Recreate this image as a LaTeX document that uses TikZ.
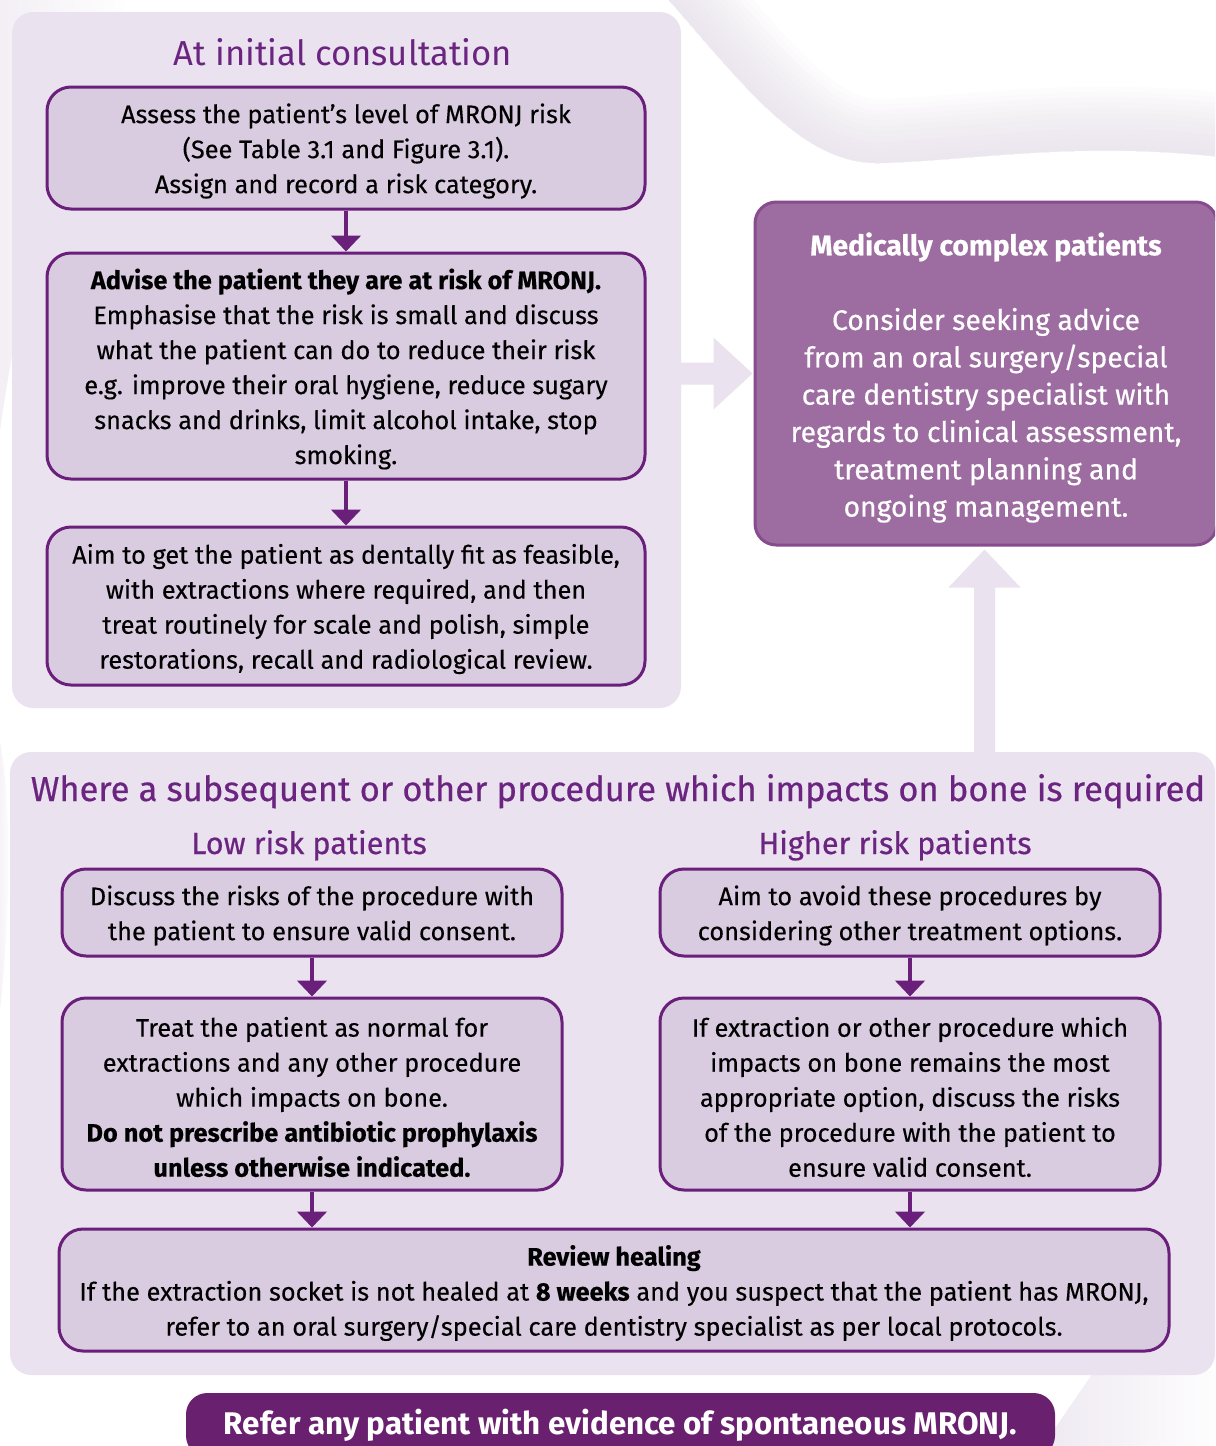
\documentclass[tikz,border=0pt]{standalone}
\usepackage{fontspec}
\setmainfont{Fira Sans}
\newfontfamily\medfont[FakeBold=0.5]{Fira Sans}
\newfontfamily\bodyfam[FakeBold=0.25]{Fira Sans}
\usetikzlibrary{arrows.meta,calc}
\definecolor{panel}{HTML}{EAE2EF}
\definecolor{boxfill}{HTML}{D9CBE0}
\definecolor{boxline}{HTML}{6A1F7A}
\definecolor{headc}{HTML}{6B2580}
\definecolor{mcfill}{HTML}{9D6DA1}
\definecolor{mcline}{HTML}{874C8E}
\definecolor{barc}{HTML}{68206F}
\definecolor{shadec}{HTML}{E3DAE8}
\begin{document}
\begin{tikzpicture}[x=0.75pt,y=-0.75pt,
  box/.style 2 args={draw=boxline, line width=2.25pt, fill=boxfill, rounded corners=18pt,
     minimum width=#1*0.75pt, minimum height=#2*0.75pt, inner sep=0pt},
  btext/.style={inner sep=0pt, align=center, text=black, font=\bodyfam\fontsize{19}{26.25}\selectfont},
  panelbox/.style={fill=panel, rounded corners=16pt, inner sep=0pt},
  darr/.style={draw=boxline, line width=3pt, -{Triangle[width=22pt,length=12pt]}},
  larr/.style={fill=panel},
  headA/.style={font=\fontsize{26}{30}\selectfont, text=headc, anchor=base, inner sep=0pt},
  headB/.style={font=\medfont\fontsize{25.9}{30}\selectfont, text=headc, anchor=base, inner sep=0pt},
  headC/.style={font=\medfont\fontsize{23}{27}\selectfont, text=headc, anchor=base, inner sep=0pt}
]
\useasboundingbox (0,0) rectangle (1215,1446);
\clip (0,0) rectangle (1215,1446);
\fill[white] (0,0) rectangle (1215,1446);

% ---- faint background swooshes ----
\begin{scope}
  \clip (660,-10) .. controls (740,80) and (800,165) .. (880,163)
        .. controls (980,160) and (1080,140) .. (1230,158) -- (1230,-10) -- cycle;
  \foreach \w in {8,16,...,96}
    \draw[shadec, line width=\w pt, opacity=0.07]
      (660,-10) .. controls (740,80) and (800,165) .. (880,163)
      .. controls (980,160) and (1080,140) .. (1230,158);
\end{scope}
\shade[left color=shadec!55, right color=white, opacity=0.8]
  (-5,-5) -- (130,-5) .. controls (80,100) and (30,220) .. (0,430) -- (-5,430) -- cycle;
\shade[left color=shadec!60, right color=white, opacity=0.7]
  (-5,720) .. controls (12,780) and (12,900) .. (0,1010) -- (-5,1010) -- cycle;
\shade[left color=shadec!60, right color=white]
  (1040,1450) -- (1095,1370) -- (1230,1370) -- (1230,1450) -- cycle;

% ---- panels ----
\node[panelbox, minimum width=669*0.75pt, minimum height=696*0.75pt] (toppanel) at (346.5,360) {};
\node[panelbox, minimum width=1205*0.75pt, minimum height=623*0.75pt] (botpanel) at (612.5,1063.5) {};

% ---- headings ----
\node[headA] (h1) at (343,65) {At initial consultation};
\node[headB] (h2) at (618,801) {Where a subsequent or other procedure which impacts on bone is required};
\node[headC] (h3) at (309,854) {Low risk patients};
\node[headC] (h4) at (895,854) {Higher risk patients};

% ---- top boxes ----
\node[box={598}{122}] (b1) at (346,148) {};
\node[btext] (b1t) at ($(b1.center)+(0,3)$) {Assess the patient’s level of MRONJ risk\\(See Table 3.1 and Figure 3.1).\\Assign and record a risk category.};
\node[box={598}{226}] (b2) at (346,366) {};
\node[btext] (b2t) at ($(b2.center)+(0,3)$) {\textbf{Advise the patient they are at risk of MRONJ.}\\Emphasise that the risk is small and discuss\\what the patient can do to reduce their risk\\e.g. improve their oral hygiene, reduce sugary\\snacks and drinks, limit alcohol intake, stop\\smoking.};
\node[box={598}{158}] (b3) at (346,606) {};
\node[btext] (b3t) at ($(b3.center)+(0,3)$) {Aim to get the patient as dentally fit as feasible,\\with extractions where required, and then\\treat routinely for scale and polish, simple\\restorations, recall and radiological review.};

% ---- medically complex ----
\node[draw=mcline, line width=2.25pt, fill=mcfill, rounded corners=16pt, minimum width=462*0.75pt,
      minimum height=343*0.75pt, inner sep=0pt] (mc) at (986,373.5) {};
\node[inner sep=0pt, align=center, text=white, font=\medfont\fontsize{21.2}{28}\selectfont] (mct)
  at ($(mc.center)+(0,4)$)
  {\textbf{Medically complex patients}\\ \\Consider seeking advice\\from an oral surgery/special\\care dentistry specialist with\\regards to clinical assessment,\\treatment planning and\\ongoing management.};

% ---- light connector arrows ----
\coordinate (ra) at ($(mc.west)+(-1,0)$);
\fill[larr] ($(toppanel.east |- ra)+(-2,-11)$) -- ($(ra)+(-39,-11)$) -- ($(ra)+(-39,-36)$) -- (ra)
   -- ($(ra)+(-39,36)$) -- ($(ra)+(-39,11)$) -- ($(toppanel.east |- ra)+(-2,11)$) -- cycle;
\coordinate (ua) at ($(mc.south)+(-1.5,3)$);
\fill[larr] ($(botpanel.north -| ua)+(-10.5,2)$) -- ($(ua)+(-10.5,38)$) -- ($(ua)+(-36,38)$) -- (ua)
   -- ($(ua)+(36,38)$) -- ($(ua)+(10.5,38)$) -- ($(botpanel.north -| ua)+(10.5,2)$) -- cycle;

% ---- lower boxes ----
\node[box={500}{87}] (l1) at (312,912.5) {};
\node[btext] (l1t) at ($(l1.center)+(0,3)$) {Discuss the risks of the procedure with\\the patient to ensure valid consent.};
\node[box={500}{192}] (l2) at (312,1094) {};
\node[btext] (l2t) at ($(l2.center)+(0,3)$) {Treat the patient as normal for\\extractions and any other procedure\\which impacts on bone.\\\textbf{Do not prescribe antibiotic prophylaxis}\\\textbf{unless otherwise indicated.}};
\node[box={500}{87}] (r1) at (910,912.5) {};
\node[btext] (r1t) at ($(r1.center)+(0,3)$) {Aim to avoid these procedures by\\considering other treatment options.};
\node[box={500}{192}] (r2) at (910,1094) {};
\node[btext] (r2t) at ($(r2.center)+(0,3)$) {If extraction or other procedure which\\impacts on bone remains the most\\appropriate option, discuss the risks\\of the procedure with the patient to\\ensure valid consent.};
\node[box={1110}{122}] (rv) at (614,1290) {};
\node[btext] (rvt) at ($(rv.center)+(0,3)$) {\textbf{Review healing}\\If the extraction socket is not healed at \textbf{8 weeks} and you suspect that the patient has MRONJ,\\refer to an oral surgery/special care dentistry specialist as per local protocols.};

% ---- bottom bar ----
\node[fill=barc, rounded corners=16pt, minimum width=869*0.75pt, minimum height=64*0.75pt, inner sep=0pt,
      text=white, font=\bfseries\fontsize{23.5}{27}\selectfont] (bar) at (620.5,1425)
  {Refer any patient with evidence of spontaneous MRONJ.};

% ---- dark arrows ----
\draw[darr] (b1.south) -- (b2.north);
\draw[darr] (b2.south) -- (b3.north);
\draw[darr] (l1.south) -- (l2.north);
\draw[darr] (r1.south) -- (r2.north);
\draw[darr] (l2.south) -- (rv.north -| l2.south);
\draw[darr] (r2.south) -- (rv.north -| r2.south);
\end{tikzpicture}
\end{document}
